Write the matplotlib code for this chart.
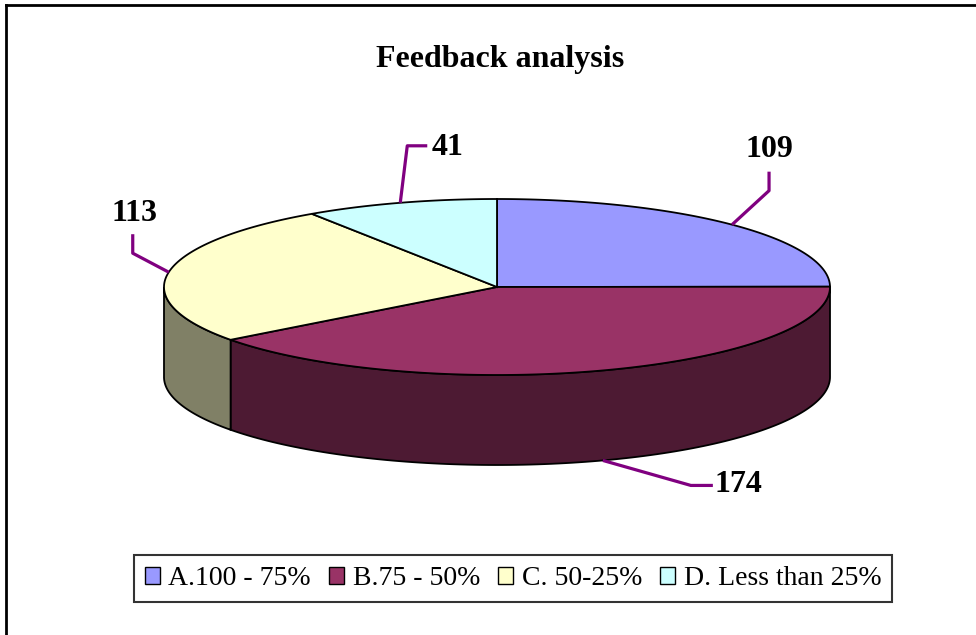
import numpy as np
import matplotlib
matplotlib.use("Agg")
import matplotlib.pyplot as plt
from matplotlib.patches import Polygon, Patch

# data
categories = ["A.100 - 75%", "B.75 - 50%", "C. 50-25%", "D. Less than 25%"]
values = [109, 174, 113, 41]
top_colors = ["#9999FF", "#993366", "#FFFFCC", "#CCFFFF"]
title = "Feedback analysis"

# leader layout per slice: elbow offset, end offset, text offset (from anchor), alignment
leaders = [
    ((37, -34), (37, -53), (37, -75), "center"),
    ((88, 25), (110, 25), (112, 24), "left"),
    ((-36, -19), (-36, -38), (-34, -59), "center"),
    ((7, -57), (27, -57), (31, -55), "left"),
]

plt.rcParams["font.family"] = ["Liberation Serif", "DejaVu Serif"]

fig = plt.figure(figsize=(9.76, 6.35), dpi=100)
ax = fig.add_axes([0, 0, 1, 1])
ax.set_xlim(0, 976)
ax.set_ylim(635, 0)
ax.axis("off")

cx, cy, rx, ry, depth = 497, 287, 333, 88, 90


def ell(theta, dz=0):
    # theta in degrees, clockwise from 12 o'clock
    t = np.radians(theta)
    return cx + rx * np.sin(t), cy - ry * np.cos(t) + dz


def shade(c, f=0.5):
    r, g, b = matplotlib.colors.to_rgb(c)
    return (r * f, g * f, b * f)


total = sum(values)
bounds = np.concatenate([[0], np.cumsum(values) / total * 360])

# side walls (front half only: 90..270)
for i in range(len(values)):
    a0, a1 = max(bounds[i], 90), min(bounds[i + 1], 270)
    if a1 <= a0:
        continue
    th = np.linspace(a0, a1, 120)
    tx, ty = ell(th)
    bx, by = ell(th[::-1], depth)
    pts = np.column_stack([np.concatenate([tx, bx]), np.concatenate([ty, by])])
    ax.add_patch(Polygon(pts, closed=True, facecolor=shade(top_colors[i]),
                         edgecolor="black", linewidth=1.3, zorder=2))

# top faces
for i in range(len(values)):
    th = np.linspace(bounds[i], bounds[i + 1], 200)
    x, y = ell(th)
    pts = np.column_stack([np.concatenate([[cx], x]), np.concatenate([[cy], y])])
    ax.add_patch(Polygon(pts, closed=True, facecolor=top_colors[i],
                         edgecolor="black", linewidth=1.3, zorder=3))

# leader lines and value labels
for i, v in enumerate(values):
    mid = (bounds[i] + bounds[i + 1]) / 2
    dz = depth if 90 < mid < 270 else 0
    axp, ayp = ell(mid, dz)
    (ex, ey), (fx, fy), (lx, ly), ha = leaders[i]
    ax.plot([axp, axp + ex, axp + fx], [ayp, ayp + ey, ayp + fy],
            color="#800080", linewidth=2.3, zorder=4, solid_capstyle="butt")
    ax.text(axp + lx, ayp + ly, str(v), ha=ha, va="center",
            fontsize=23, fontweight="bold", zorder=5)

ax.text(500, 60, title, ha="center", va="center", fontsize=23, fontweight="bold")

# chart area frame (only top and left visible)
ax.plot([6, 976], [5, 5], color="black", linewidth=2)
ax.plot([6, 6], [5, 635], color="black", linewidth=2)

handles = [Patch(facecolor=c, edgecolor="black", linewidth=1.0) for c in top_colors]
leg = ax.legend(handles, categories, loc="center", bbox_to_anchor=(513, 578.5),
                bbox_transform=ax.transData, ncol=4, fontsize=20, frameon=True,
                fancybox=False, handlelength=0.55, handleheight=0.55,
                handletextpad=0.3, columnspacing=0.65, borderpad=0.4,
                borderaxespad=0)
leg.get_frame().set_edgecolor("black")
leg.get_frame().set_linewidth(1.5)

fig.savefig("out.png", dpi=100)
